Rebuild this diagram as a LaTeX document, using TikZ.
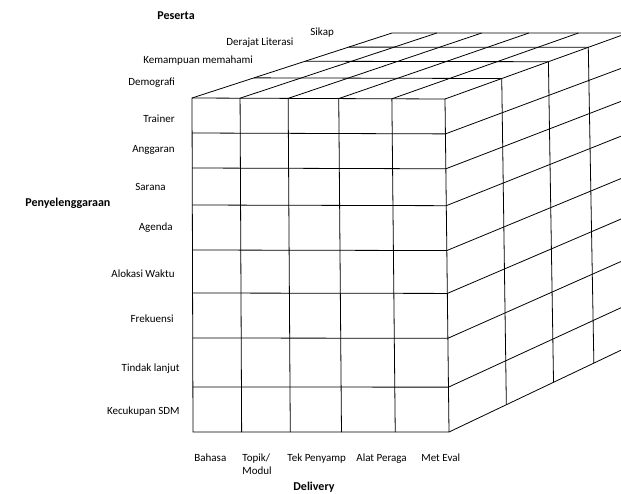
\documentclass[tikz,border=0pt]{standalone}
\usepackage{fontspec}
\setmainfont{Carlito}
\begin{document}
\begin{tikzpicture}[x=1pt,y=-1pt,line width=0.8pt,
lbl/.style={font=\fontsize{11}{13}\selectfont,inner sep=0pt,text height=8pt,text depth=2pt},
judul/.style={font=\bfseries\fontsize{12}{14}\selectfont,inner sep=0pt,text height=8pt,text depth=2pt}]
\useasboundingbox (0,0) rectangle (621,493);
\begin{scope}
\clip (0,0) rectangle (621,493);
\coordinate (FTL) at (192,98);
\coordinate (FTR) at (445,99);
\coordinate (FBL) at (193,432);
\coordinate (FBR) at (449,432);
\coordinate (L4) at (392,33);
\coordinate (T4) at (628,33);
\coordinate (B4) at (634,344);
\path (FTL)--(L4) foreach \k/\p in{1/0.31,2/0.565,3/0.783}{coordinate[pos=\p](L\k)};
\path (FTR)--(T4) foreach \k/\p in{1/0.31,2/0.565,3/0.783}{coordinate[pos=\p](T\k)};
\path (FBR)--(B4) foreach \k/\p in{1/0.31,2/0.565,3/0.783}{coordinate[pos=\p](B\k)};
% kolom
\path (FTL)--(FTR) foreach \i/\p in{1/0.19,2/0.38,3/0.58,4/0.79}{coordinate[pos=\p](C\i)};
\path (FBL)--(FBR) foreach \i/\p in{1/0.19,2/0.38,3/0.58,4/0.79}{coordinate[pos=\p](D\i)};
\path (L4)--(T4) foreach \i/\p in{1/0.19,2/0.38,3/0.58,4/0.79}{coordinate[pos=\p](E\i)};
% baris
\path (FTL)--(FBL) foreach \n/\y in{1/133,2/168,3/205,4/250,5/293,6/338,7/387}{coordinate[pos={(\y-98)/334}](Q\n)};
\path (FTR)--(FBR) foreach \n/\y in{1/133,2/168,3/205,4/250,5/293,6/338,7/387}{coordinate[pos={(\y-98)/334}](R\n)};
\path (T4)--(B4) foreach \n/\y in{1/133,2/168,3/205,4/250,5/293,6/338,7/387}{coordinate[pos={(\y-98)/334}](S\n)};

\draw (FTL)--(FTR)--(FBR)--(FBL)--cycle;
\foreach \i in{1,...,4}
\draw (D\i)--(C\i)--(E\i);
\foreach \n in{1,...,7}
\draw (Q\n)--(R\n)--(S\n);
\foreach \k in{1,2,3}
\draw (L\k)--(T\k)--(B\k);
\draw (FTL)--(L4)--(T4)--(B4)--(FBR) (FTR)--(T4);
\end{scope}

\node[judul,anchor=west] (peserta) at (157,16) {Peserta};
\node[lbl,anchor=west] (sikap) at (310,32) {Sikap};
\node[lbl,anchor=west] (literasi) at (226,42) {Derajat Literasi};
\node[lbl,anchor=west] (memahami) at (143,60) {Kemampuan memahami};
\node[lbl,anchor=west] (demografi) at (128,82) {Demografi};

\node[judul,anchor=west] (penyelenggaraan) at (25,203) {Penyelenggaraan};
\node[lbl,anchor=east] (trainer) at (175,119) {Trainer};
\node[lbl,anchor=east] (anggaran) at (175,149) {Anggaran};
\node[lbl,anchor=east] (sarana) at (166,187) {Sarana};
\node[lbl,anchor=east] (agenda) at (173,227) {Agenda};
\node[lbl,anchor=east] (alokasi) at (175,274) {Alokasi Waktu};
\node[lbl,anchor=east] (frekuensi) at (174,319) {Frekuensi};
\node[lbl,anchor=east] (tindak) at (180,368) {Tindak lanjut};
\node[lbl,anchor=east] (sdm) at (180,411) {Kecukupan SDM};

\node[lbl,anchor=west] (bahasa) at (194,458) {Bahasa};
\node[lbl,anchor=west] (topik) at (242,458) {Topik/};
\node[lbl,anchor=west] (modul) at (242,471) {Modul};
\node[lbl,anchor=west] (penyamp) at (287,458) {Tek Penyamp};
\node[lbl,anchor=west] (peraga) at (356,458) {Alat Peraga};
\node[lbl,anchor=west] (eval) at (421,458) {Met Eval};
\node[judul,anchor=west] (delivery) at (293,487) {Delivery};
\end{tikzpicture}
\end{document}
